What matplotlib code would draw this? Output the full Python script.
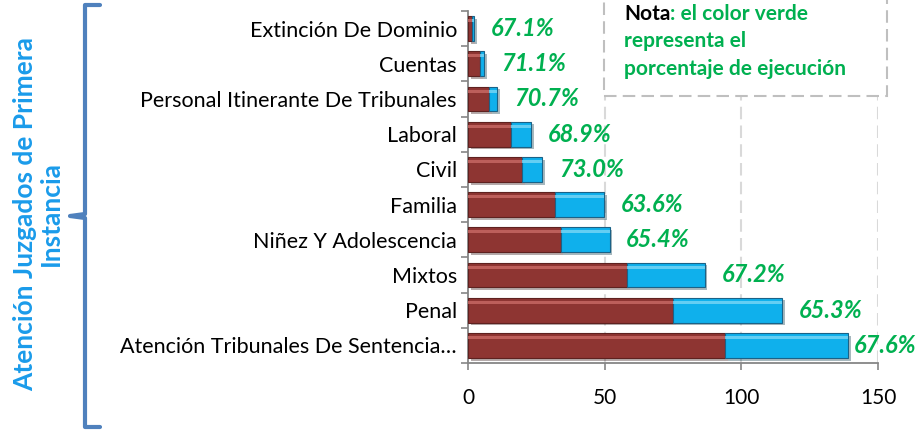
import matplotlib
matplotlib.use("Agg")
import matplotlib.pyplot as plt
import matplotlib.patheffects as pe
from matplotlib.lines import Line2D
from matplotlib.patches import Rectangle
import numpy as np

plt.rcParams['font.family'] = ['Lato', 'DejaVu Sans']

# ---- data (top to bottom as shown) ----
categories = ["Extinción De Dominio", "Cuentas", "Personal Itinerante De Tribunales",
              "Laboral", "Civil", "Familia", "Niñez Y Adolescencia", "Mixtos",
              "Penal", "Atención Tribunales De Sentencia…"]
executed = [1.4, 4.3, 7.6, 15.9, 19.9, 31.7, 33.9, 58.2, 75.0, 94.0]
remaining = [0.7, 1.7, 3.1, 7.2, 7.3, 18.1, 17.9, 28.4, 39.8, 45.0]
pct_labels = ["67.1%", "71.1%", "70.7%", "68.9%", "73.0%", "63.6%", "65.4%",
              "67.2%", "65.3%", "67.6%"]
x_ticks = [0, 50, 100, 150]
group_title = "Atención Juzgados de Primera\nInstancia"
note_head = "Nota"
note_lines = [": el color verde", "representa el", "porcentaje de ejecución"]

W, H = 924, 433
fig = plt.figure(figsize=(W / 100, H / 100), dpi=100)
ax = fig.add_axes([468 / W, (H - 363) / H, 410 / W, 352 / H])

n = len(categories)
y = np.arange(n)
bh = 0.71
red, red_hi, red_edge = "#8E3532", "#C96A66", "#5E2220"
blue, blue_hi, blue_edge = "#0FB0EC", "#7AD6F6", "#1B6287"
shadow = [pe.SimplePatchShadow(offset=(2, -2), alpha=0.35), pe.Normal()]

executed = np.array(executed)
remaining = np.array(remaining)
totals = executed + remaining

ax.barh(y, executed, height=bh, color=red, edgecolor=red_edge, linewidth=0.8,
        zorder=3, path_effects=shadow)
ax.barh(y, remaining, left=executed, height=bh, color=blue, edgecolor=blue_edge,
        linewidth=0.8, zorder=3, path_effects=shadow)
# bevel highlight strips
ax.barh(y - bh * 0.32, executed, height=bh * 0.12, color=red_hi, linewidth=0, zorder=4, alpha=0.8)
ax.barh(y - bh * 0.32, remaining, left=executed, height=bh * 0.12, color=blue_hi,
        linewidth=0, zorder=4, alpha=0.8)

ax.set_xlim(0, 150)
ax.set_ylim(n - 0.5, -0.5)
ax.set_xticks(x_ticks)
ax.set_xticklabels([str(v) for v in x_ticks])
ax.set_yticks(y)
ax.set_yticklabels(categories)
ax.set_yticks(np.arange(-0.5, n, 1.0), minor=True)
ax.tick_params(axis='y', which='major', length=0, pad=8, labelsize=15.5, colors='black')
ax.tick_params(axis='y', which='minor', length=5, width=1.2, color='#868686')
ax.tick_params(axis='x', length=5, width=1.2, color='#868686', pad=13, labelsize=15)
for s in ['top', 'right']:
    ax.spines[s].set_visible(False)
for s in ['left', 'bottom']:
    ax.spines[s].set_color('#868686')
    ax.spines[s].set_linewidth(1.3)
for xv in x_ticks[1:]:
    ax.axvline(xv, color='#D9D9D9', linewidth=1.5, linestyle=(0, (6, 3)), zorder=1)

# percentage labels
labels = []
for yi, tot, lab in zip(y, totals, pct_labels):
    t = ax.annotate(lab, xy=(tot, yi), xytext=(12, 0), textcoords='offset points',
                    ha='left', va='center', color='#00B050', fontsize=17,
                    fontweight='bold', fontstyle='italic', annotation_clip=False, zorder=5)
    labels.append(t)
fig.canvas.draw()
r = fig.canvas.get_renderer()
for t in labels:
    bb = t.get_window_extent(r)
    if bb.x1 > W - 8:
        dx = (bb.x1 - (W - 8)) * 72 / 100
        ox, oy = t.xyann
        t.xyann = (ox - dx, oy)

# note box
box = Rectangle((604 / W, (H - 96) / H), (887 - 604) / W, 120 / H, transform=fig.transFigure,
                facecolor='white', edgecolor='#BFBFBF', linewidth=1.5,
                linestyle=(0, (6, 3)), zorder=10)
fig.add_artist(box)
baselines = [20, 47, 75]
nfs = 15
tn = fig.text(624 / W, 1 - baselines[0] / H, note_head, color='black', fontsize=nfs,
              fontweight='bold', va='baseline', ha='left', zorder=11)
fig.canvas.draw()
bbn = tn.get_window_extent(fig.canvas.get_renderer())
fig.text(bbn.x1 / W, 1 - baselines[0] / H, note_lines[0], color='#00B050', fontsize=nfs,
         fontweight='bold', va='baseline', ha='left', zorder=11)
for bl, line in zip(baselines[1:], note_lines[1:]):
    fig.text(624 / W, 1 - bl / H, line, color='#00B050', fontsize=nfs,
             fontweight='bold', va='baseline', ha='left', zorder=11)

# group title + brace
fig.text(38 / W, 1 - 214 / H, group_title, rotation=90, ha='center', va='center',
         color='#1A9BEA', fontsize=19, fontweight='bold', multialignment='center',
         linespacing=1.1)
bc = '#4F81BD'
xs = [100, 85, 85, 70, 85, 85, 100]
ys = [5, 5, 214, 216, 218, 427, 427]
fig.add_artist(Line2D([v / W for v in xs], [1 - v / H for v in ys], transform=fig.transFigure,
                      color=bc, linewidth=3, solid_joinstyle='round', solid_capstyle='round'))

fig.savefig("out.png", dpi=100)
